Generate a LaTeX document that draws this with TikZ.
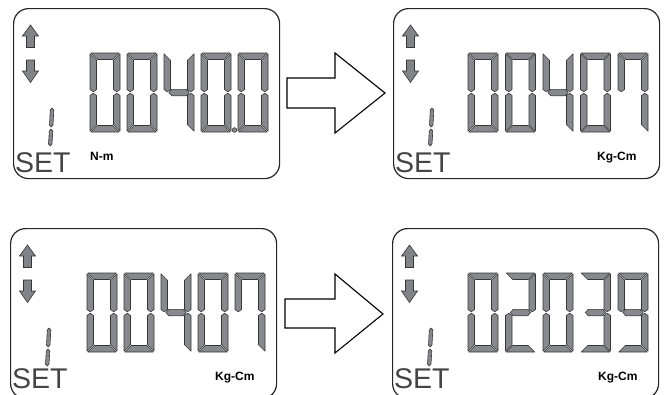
\documentclass[tikz,border=0pt]{standalone}
\usepackage{fontspec}
\setmainfont{Liberation Sans}
\definecolor{segfill}{HTML}{868A8F}
\definecolor{segline}{HTML}{363636}
\definecolor{iconfill}{HTML}{808388}
\definecolor{settxt}{HTML}{454545}
\tikzset{
  seg/.style={fill=segfill, draw=segline, line width=0.6pt, line join=round},
  icon/.style={fill=iconfill, draw=segline, line width=0.6pt, line join=miter},
  panel/.style={draw=black!85, line width=1.2pt, rounded corners=15pt, minimum width=266pt, minimum height=170pt, anchor=north west, inner sep=0pt},
  bigarrow/.style={draw=black, line width=1.1pt, fill=white, line join=miter},
  settext/.style={font=\fontsize{28.5}{28.5}\selectfont, text=settxt, inner sep=0pt, anchor=base west},
  unittext/.style={font=\bfseries\fontsize{12}{12}\selectfont, inner sep=0pt, anchor=base west},
}
\newcommand\segpa{\path[seg] (0.8,0) -- (29.2,0) -- (22.7,6.5) -- (7.3,6.5) -- cycle;}
\newcommand\segpb{\path[seg] (30,0.8) -- (30,36.5) -- (26.75,38.8) -- (23.5,36.5) -- (23.5,7.3) -- cycle;}
\newcommand\segpc{\path[seg] (30,42.5) -- (30,78.2) -- (23.5,71.7) -- (23.5,42.5) -- (26.75,40.2) -- cycle;}
\newcommand\segpd{\path[seg] (0.8,79) -- (29.2,79) -- (22.7,72.5) -- (7.3,72.5) -- cycle;}
\newcommand\segpe{\path[seg] (0,42.5) -- (3.25,40.2) -- (6.5,42.5) -- (6.5,71.7) -- (0,78.2) -- cycle;}
\newcommand\segpf{\path[seg] (0,0.8) -- (6.5,7.3) -- (6.5,36.5) -- (3.25,38.8) -- (0,36.5) -- cycle;}
\newcommand\segpg{\path[seg] (4.8,39.5) -- (7.8,36.3) -- (22.2,36.3) -- (25.2,39.5) -- (22.2,42.7) -- (7.8,42.7) -- cycle;}
\newcommand\lcddigit[3]{\begin{scope}[shift={(#1,#2)}]\foreach \s in {#3}{\csname segp\s\endcsname}\end{scope}}
% name, left, top, SET baseline offset
\newcommand\lcdpanel[4]{%
  \node[panel] (#1) at (#2,#3) {};
  \begin{scope}[shift={(#2,#3)}]
    \path[icon] (17.5,17) -- (25.5,28) -- (21.5,28) -- (21.5,39.5) -- (13.5,39.5) -- (13.5,28) -- (9.5,28) -- cycle;
    \path[icon] (13.5,52) -- (21.5,52) -- (21.5,63) -- (25.5,63) -- (17.5,74.5) -- (9.5,63) -- (13.5,63) -- cycle;
    \path[seg] (39,100) -- (40.8,102) -- (40,117) -- (38.2,119) -- (36.5,117) -- (37.3,102) -- cycle;
    \path[seg] (38,121) -- (39.8,123) -- (39,136) -- (37.2,138) -- (35.5,136) -- (36.3,123) -- cycle;
    \node[settext] (#1set) at (2,#4) {SET};
  \end{scope}
}
\begin{document}
\begin{tikzpicture}[x=1pt,y=-1pt]
\useasboundingbox (0,0) rectangle (667,394);
\clip (0,0) rectangle (667,394);
% panels
\lcdpanel{p1}{13}{8}{164}
\lcdpanel{p2}{393}{8}{164}
\lcdpanel{p3}{10}{228}{160}
\lcdpanel{p4}{392}{228}{160}
% panel 1: 0040.0
\lcddigit{90}{53}{a,b,c,d,e,f}
\lcddigit{127}{53}{a,b,c,d,e,f}
\lcddigit{164}{53}{b,c,f,g}
\lcddigit{201}{53}{a,b,c,d,e,f}
\lcddigit{238}{53}{a,b,c,d,e,f}
\path[seg] (234.5,130) circle[radius=2.3];
\node[unittext] (u1) at (90,160) {N-m};
% panel 2: 00407
\lcddigit{468}{53}{a,b,c,d,e,f}
\lcddigit{505.5}{53}{a,b,c,d,e,f}
\lcddigit{543}{53}{b,c,f,g}
\lcddigit{580.5}{53}{a,b,c,d,e,f}
\lcddigit{618}{53}{a,b,c,f}
\node[unittext] (u2) at (597,160) {Kg-Cm};
% panel 3: 00407
\lcddigit{87}{273}{a,b,c,d,e,f}
\lcddigit{124}{273}{a,b,c,d,e,f}
\lcddigit{161}{273}{b,c,f,g}
\lcddigit{198}{273}{a,b,c,d,e,f}
\lcddigit{235}{273}{a,b,c,f}
\node[unittext] (u3) at (215,380) {Kg-Cm};
% panel 4: 02039
\lcddigit{468}{273}{a,b,c,d,e,f}
\lcddigit{505.5}{273}{a,b,g,e,d}
\lcddigit{543}{273}{a,b,c,d,e,f}
\lcddigit{580.5}{273}{a,b,g,c,d}
\lcddigit{618}{273}{a,b,c,d,f,g}
\node[unittext] (u4) at (598,380) {Kg-Cm};
% block arrows
\draw[bigarrow] (287,78) -- (335,78) -- (335,53) -- (385,93) -- (335,133) -- (335,108) -- (287,108) -- cycle;
\draw[bigarrow] (285,299) -- (335,299) -- (335,274) -- (383,314) -- (335,353) -- (335,328) -- (285,328) -- cycle;
\end{tikzpicture}
\end{document}
